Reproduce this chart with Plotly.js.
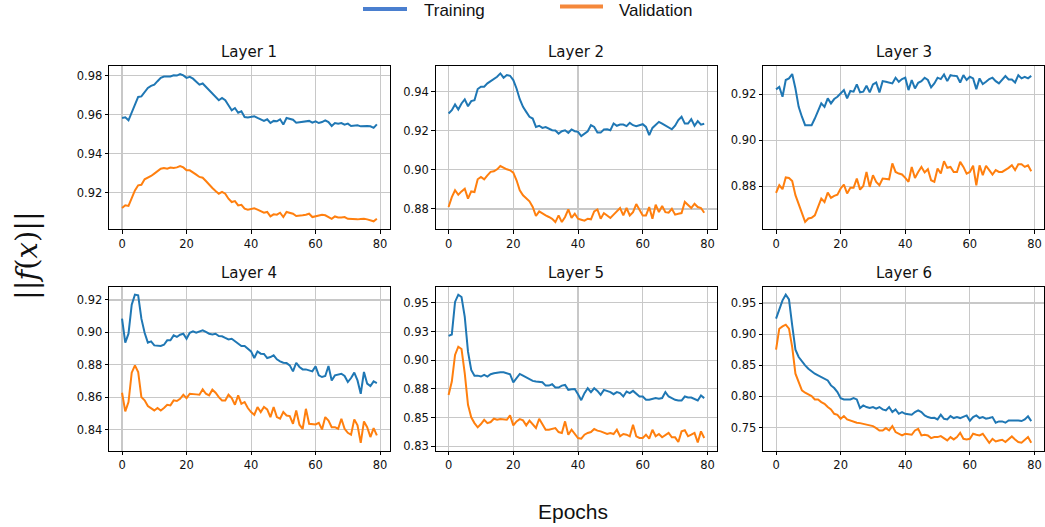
<!DOCTYPE html>
<html>
<head>
<meta charset="utf-8">
<script src="https://cdn.plot.ly/plotly-3.0.1.min.js"></script>
<style>html,body{margin:0;padding:0;background:#fff;}#chart{width:1045px;height:527px;}</style>
</head>
<body>
<div id="chart"></div>
<script>
const epochs = [0,1,2,3,4,5,6,7,8,9,10,11,12,13,14,15,16,17,18,19,20,21,22,23,24,25,26,27,28,29,30,31,32,33,34,35,36,37,38,39,40,41,42,43,44,45,46,47,48,49,50,51,52,53,54,55,56,57,58,59,60,61,62,63,64,65,66,67,68,69,70,71,72,73,74,75,76,77,78,79];
const layerNames = ["Layer 1","Layer 2","Layer 3","Layer 4","Layer 5","Layer 6"];
const seriesNames = ["Training","Validation"];
const xTicks = [0,20,40,60,80];

const train1 = [0.9584,0.9587,0.9572,0.9615,0.9658,0.9692,0.9695,0.9718,0.9738,0.9749,0.9755,0.9773,0.9790,0.9797,0.9798,0.9797,0.9803,0.9802,0.9810,0.9803,0.9790,0.9795,0.9786,0.9769,0.9755,0.9761,0.9743,0.9726,0.9709,0.9692,0.9675,0.9687,0.9675,0.9649,0.9623,0.9635,0.9611,0.9618,0.9589,0.9586,0.9591,0.9593,0.9584,0.9577,0.9569,0.9577,0.9558,0.9569,0.9567,0.9577,0.9550,0.9584,0.9581,0.9575,0.9560,0.9563,0.9563,0.9567,0.9569,0.9560,0.9567,0.9558,0.9563,0.9572,0.9563,0.9543,0.9558,0.9555,0.9558,0.9550,0.9555,0.9543,0.9543,0.9546,0.9541,0.9543,0.9543,0.9541,0.9533,0.9551];
const val1 = [0.9121,0.9135,0.9132,0.9169,0.9212,0.9238,0.9241,0.9269,0.9276,0.9286,0.9298,0.9310,0.9323,0.9327,0.9323,0.9329,0.9327,0.9330,0.9337,0.9330,0.9315,0.9315,0.9306,0.9293,0.9281,0.9277,0.9260,0.9241,0.9224,0.9209,0.9195,0.9204,0.9195,0.9169,0.9152,0.9157,0.9135,0.9138,0.9118,0.9113,0.9118,0.9120,0.9113,0.9104,0.9097,0.9101,0.9078,0.9089,0.9087,0.9097,0.9075,0.9101,0.9097,0.9092,0.9080,0.9084,0.9084,0.9087,0.9092,0.9075,0.9080,0.9084,0.9087,0.9084,0.9075,0.9066,0.9078,0.9073,0.9073,0.9075,0.9066,0.9065,0.9061,0.9063,0.9065,0.9066,0.9063,0.9058,0.9053,0.9066];

const train2 = [0.9289,0.9306,0.9335,0.9309,0.9340,0.9361,0.9326,0.9352,0.9357,0.9414,0.9426,0.9426,0.9443,0.9455,0.9463,0.9477,0.9494,0.9472,0.9486,0.9482,0.9460,0.9417,0.9362,0.9323,0.9297,0.9272,0.9263,0.9220,0.9226,0.9215,0.9219,0.9212,0.9203,0.9202,0.9186,0.9198,0.9203,0.9190,0.9207,0.9198,0.9195,0.9173,0.9185,0.9198,0.9229,0.9220,0.9191,0.9191,0.9207,0.9208,0.9203,0.9238,0.9226,0.9232,0.9232,0.9224,0.9241,0.9229,0.9224,0.9229,0.9234,0.9220,0.9178,0.9215,0.9229,0.9246,0.9237,0.9226,0.9217,0.9208,0.9226,0.9255,0.9272,0.9237,0.9237,0.9260,0.9226,0.9250,0.9232,0.9236];
const val2 = [0.8810,0.8861,0.8896,0.8873,0.8890,0.8904,0.8853,0.8890,0.8887,0.8952,0.8964,0.8952,0.8972,0.8990,0.8993,0.9003,0.9020,0.9010,0.9003,0.8998,0.8986,0.8947,0.8896,0.8870,0.8853,0.8839,0.8810,0.8764,0.8788,0.8776,0.8767,0.8759,0.8750,0.8733,0.8767,0.8733,0.8759,0.8798,0.8754,0.8776,0.8750,0.8745,0.8740,0.8750,0.8747,0.8788,0.8798,0.8750,0.8779,0.8767,0.8754,0.8771,0.8788,0.8805,0.8767,0.8805,0.8767,0.8784,0.8825,0.8793,0.8767,0.8767,0.8810,0.8750,0.8822,0.8784,0.8815,0.8784,0.8781,0.8801,0.8771,0.8776,0.8779,0.8836,0.8819,0.8805,0.8827,0.8810,0.8805,0.8781];

const train3 = [0.9222,0.9233,0.9190,0.9263,0.9270,0.9289,0.9226,0.9146,0.9103,0.9066,0.9066,0.9066,0.9095,0.9127,0.9161,0.9146,0.9183,0.9161,0.9180,0.9190,0.9204,0.9219,0.9183,0.9215,0.9212,0.9244,0.9209,0.9212,0.9238,0.9209,0.9244,0.9252,0.9209,0.9258,0.9255,0.9251,0.9248,0.9273,0.9255,0.9267,0.9273,0.9219,0.9263,0.9226,0.9251,0.9258,0.9273,0.9263,0.9231,0.9248,0.9273,0.9267,0.9287,0.9258,0.9284,0.9281,0.9280,0.9252,0.9284,0.9263,0.9277,0.9270,0.9223,0.9270,0.9245,0.9255,0.9267,0.9273,0.9258,0.9248,0.9265,0.9280,0.9265,0.9265,0.9252,0.9284,0.9270,0.9277,0.9270,0.9281];
const val3 = [0.8771,0.8804,0.8787,0.8838,0.8836,0.8823,0.8761,0.8724,0.8681,0.8644,0.8659,0.8662,0.8673,0.8710,0.8746,0.8731,0.8772,0.8749,0.8758,0.8763,0.8790,0.8807,0.8768,0.8793,0.8793,0.8833,0.8785,0.8801,0.8862,0.8797,0.8848,0.8819,0.8804,0.8833,0.8830,0.8830,0.8899,0.8862,0.8855,0.8851,0.8836,0.8819,0.8884,0.8836,0.8862,0.8884,0.8860,0.8874,0.8826,0.8819,0.8877,0.8855,0.8909,0.8880,0.8884,0.8862,0.8862,0.8906,0.8884,0.8855,0.8862,0.8889,0.8804,0.8891,0.8848,0.8889,0.8870,0.8851,0.8870,0.8862,0.8862,0.8870,0.8880,0.8891,0.8870,0.8896,0.8896,0.8884,0.8891,0.8865];

const train4 = [0.9085,0.8937,0.8992,0.9171,0.9233,0.9229,0.9085,0.8998,0.8937,0.8945,0.8920,0.8916,0.8916,0.8924,0.8951,0.8951,0.8982,0.8972,0.8986,0.8992,0.8961,0.8998,0.9007,0.8998,0.9007,0.9013,0.9003,0.8992,0.8988,0.8992,0.8978,0.8976,0.8966,0.8957,0.8961,0.8945,0.8931,0.8916,0.8916,0.8900,0.8883,0.8842,0.8883,0.8869,0.8867,0.8842,0.8848,0.8859,0.8834,0.8822,0.8813,0.8811,0.8797,0.8760,0.8813,0.8787,0.8772,0.8772,0.8766,0.8760,0.8791,0.8735,0.8725,0.8731,0.8793,0.8704,0.8735,0.8741,0.8745,0.8731,0.8694,0.8719,0.8752,0.8704,0.8622,0.8756,0.8684,0.8669,0.8698,0.8688];
const val4 = [0.8628,0.8513,0.8571,0.8752,0.8797,0.8756,0.8601,0.8581,0.8546,0.8534,0.8519,0.8534,0.8519,0.8534,0.8554,0.8550,0.8581,0.8577,0.8591,0.8616,0.8595,0.8622,0.8622,0.8618,0.8616,0.8649,0.8622,0.8612,0.8647,0.8628,0.8601,0.8581,0.8581,0.8616,0.8595,0.8554,0.8612,0.8560,0.8571,0.8534,0.8509,0.8492,0.8540,0.8509,0.8540,0.8525,0.8478,0.8540,0.8478,0.8468,0.8509,0.8488,0.8484,0.8437,0.8519,0.8431,0.8406,0.8529,0.8437,0.8437,0.8433,0.8443,0.8402,0.8478,0.8457,0.8416,0.8416,0.8406,0.8468,0.8406,0.8381,0.8369,0.8464,0.8427,0.8319,0.8451,0.8416,0.8355,0.8410,0.8365];

const train5 = [0.9213,0.9225,0.9509,0.9572,0.9552,0.9378,0.9075,0.8915,0.8866,0.8866,0.8858,0.8872,0.8858,0.8878,0.8886,0.8892,0.8895,0.8895,0.8886,0.8878,0.8808,0.8849,0.8881,0.8866,0.8849,0.8837,0.8820,0.8814,0.8814,0.8808,0.8779,0.8779,0.8791,0.8762,0.8762,0.8779,0.8785,0.8742,0.8748,0.8750,0.8704,0.8652,0.8713,0.8756,0.8722,0.8756,0.8733,0.8698,0.8742,0.8733,0.8722,0.8704,0.8722,0.8713,0.8684,0.8727,0.8713,0.8733,0.8704,0.8684,0.8684,0.8655,0.8655,0.8664,0.8670,0.8664,0.8670,0.8722,0.8684,0.8670,0.8655,0.8649,0.8649,0.8684,0.8675,0.8675,0.8664,0.8649,0.8693,0.8670];
const val5 = [0.8698,0.8814,0.9046,0.9118,0.9098,0.8886,0.8612,0.8502,0.8452,0.8415,0.8444,0.8481,0.8452,0.8461,0.8490,0.8481,0.8487,0.8481,0.8481,0.8519,0.8432,0.8467,0.8487,0.8476,0.8432,0.8473,0.8444,0.8409,0.8490,0.8438,0.8394,0.8394,0.8400,0.8409,0.8374,0.8366,0.8467,0.8351,0.8394,0.8357,0.8322,0.8316,0.8351,0.8366,0.8374,0.8400,0.8386,0.8380,0.8371,0.8357,0.8366,0.8357,0.8394,0.8337,0.8357,0.8351,0.8337,0.8438,0.8337,0.8322,0.8322,0.8351,0.8316,0.8394,0.8337,0.8357,0.8328,0.8351,0.8366,0.8328,0.8328,0.8287,0.8380,0.8389,0.8337,0.8351,0.8366,0.8284,0.8380,0.8322];

const train6 = [0.9248,0.9409,0.9543,0.9634,0.9559,0.9141,0.8750,0.8632,0.8562,0.8498,0.8444,0.8401,0.8364,0.8337,0.8310,0.8273,0.8256,0.8176,0.8133,0.8069,0.7972,0.7951,0.7951,0.7951,0.7972,0.7951,0.7812,0.7854,0.7828,0.7812,0.7828,0.7801,0.7828,0.7790,0.7774,0.7828,0.7747,0.7790,0.7720,0.7747,0.7720,0.7710,0.7704,0.7747,0.7774,0.7747,0.7694,0.7667,0.7651,0.7656,0.7629,0.7704,0.7640,0.7629,0.7683,0.7651,0.7667,0.7651,0.7667,0.7694,0.7608,0.7667,0.7694,0.7651,0.7667,0.7640,0.7651,0.7667,0.7576,0.7597,0.7597,0.7576,0.7613,0.7613,0.7619,0.7613,0.7603,0.7629,0.7678,0.7603];
const val6 = [0.8750,0.9087,0.9125,0.9152,0.9087,0.8792,0.8364,0.8230,0.8096,0.8058,0.8026,0.8005,0.7951,0.7951,0.7908,0.7881,0.7828,0.7790,0.7720,0.7704,0.7640,0.7683,0.7629,0.7613,0.7586,0.7576,0.7570,0.7560,0.7544,0.7533,0.7522,0.7490,0.7452,0.7452,0.7490,0.7452,0.7522,0.7426,0.7399,0.7372,0.7399,0.7388,0.7383,0.7452,0.7479,0.7372,0.7383,0.7372,0.7329,0.7345,0.7345,0.7361,0.7329,0.7292,0.7345,0.7308,0.7345,0.7415,0.7318,0.7308,0.7318,0.7399,0.7383,0.7372,0.7399,0.7318,0.7254,0.7318,0.7276,0.7292,0.7302,0.7265,0.7318,0.7356,0.7308,0.7265,0.7254,0.7308,0.7345,0.7254];

const yTicks1 = [0.92,0.94,0.96,0.98];
const yTicks2 = [0.88,0.90,0.92,0.94];
const yTicks3 = [0.88,0.90,0.92];
const yTicks4 = [0.84,0.86,0.88,0.90,0.92];
const yTicks5 = [0.825,0.85,0.875,0.90,0.925,0.95];
const yTickText5 = ["0.83","0.85","0.88","0.90","0.93","0.95"];
const yTicks6 = [0.75,0.80,0.85,0.90,0.95];

const trainSeries = [train1,train2,train3,train4,train5,train6];
const valSeries = [val1,val2,val3,val4,val5,val6];
const yTickSets = [yTicks1,yTicks2,yTicks3,yTicks4,yTicks5,yTicks6];
const yTickTexts = [null,null,null,null,yTickText5,null];
const yRanges = [[0.9012,0.9851],[0.8696,0.9532],[0.8612,0.9324],[0.8272,0.9280],[0.8213,0.9639],[0.7130,0.9757]];

const W = 1045, H = 527;
const colPx = [[109.3,389.6],[435.8,717.0],[763.3,1044.0]];
const rowPx = [[66,229.3],[287,450.5]];
const titleY = [52,273];

const tickFont = {family:"DejaVu Sans, sans-serif", size:11.5, color:"#111"};
const colTrain = "#1f77b4", colVal = "#ff7f0e";

const data = [];
const layout = {
  width:W, height:H,
  margin:{l:0,r:0,t:0,b:0},
  paper_bgcolor:"#fff", plot_bgcolor:"#fff",
  showlegend:false,
  annotations:[], shapes:[]
};

for (let i=0;i<6;i++){
  const r = Math.floor(i/3), c = i%3;
  const sfx = i===0 ? "" : String(i+1);
  data.push({x:epochs, y:trainSeries[i], type:"scatter", mode:"lines", name:seriesNames[0],
    xaxis:"x"+sfx, yaxis:"y"+sfx, line:{color:colTrain,width:2}, hoverinfo:"skip"});
  data.push({x:epochs, y:valSeries[i], type:"scatter", mode:"lines", name:seriesNames[1],
    xaxis:"x"+sfx, yaxis:"y"+sfx, line:{color:colVal,width:2}, hoverinfo:"skip"});
  const xd = [colPx[c][0]/W, colPx[c][1]/W];
  const yd = [1-rowPx[r][1]/H, 1-rowPx[r][0]/H];
  const common = {showline:true, mirror:true, linecolor:"#000", linewidth:1.1,
    showgrid:true, gridcolor:"#c8c8c8", gridwidth:1.1, zeroline:false,
    ticks:"outside", ticklen:3.5, tickwidth:1, tickcolor:"#000", tickfont:tickFont};
  layout["xaxis"+sfx] = Object.assign({}, common, {domain:xd, anchor:"y"+sfx,
    range:[-3.95,82.95], tickmode:"array", tickvals:xTicks});
  const ya = Object.assign({}, common, {domain:yd, anchor:"x"+sfx,
    range:yRanges[i], tickmode:"array", tickvals:yTickSets[i], tickformat:".2f"});
  if (yTickTexts[i]) ya.ticktext = yTickTexts[i];
  layout["yaxis"+sfx] = ya;
  layout.annotations.push({text:layerNames[i], xref:"paper", yref:"paper",
    x:(colPx[c][0]+colPx[c][1])/2/W, y:1-titleY[r]/H, xanchor:"center", yanchor:"middle",
    showarrow:false, font:{family:"DejaVu Sans, sans-serif", size:15, color:"#111"}});
}

// shared axis titles
layout.annotations.push({text:"Epochs", xref:"paper", yref:"paper", x:573/W, y:1-511/H,
  xanchor:"center", yanchor:"middle", showarrow:false,
  font:{family:"Liberation Sans, Arial, sans-serif", size:21, color:"#111"}});
layout.annotations.push({text:"||<i>f</i>(<i>x</i>)||", xref:"paper", yref:"paper", x:27/W, y:1-256/H,
  xanchor:"center", yanchor:"middle", textangle:-90, showarrow:false,
  font:{family:"DejaVu Serif, serif", size:29, color:"#111"}});

// figure-level legend
const legendItems = [
  {label:seriesNames[0], color:"#4a7fcf", x0:363, x1:407, ly:9, tx:423},
  {label:seriesNames[1], color:"#f5883b", x0:560, x1:603, ly:6.5, tx:618}
];
legendItems.forEach(it=>{
  layout.shapes.push({type:"line", xref:"paper", yref:"paper", x0:it.x0/W, x1:it.x1/W,
    y0:1-it.ly/H, y1:1-it.ly/H, line:{color:it.color, width:4}});
  layout.annotations.push({text:it.label, xref:"paper", yref:"paper", x:it.tx/W, y:1,
    xanchor:"left", yanchor:"top", showarrow:false, borderpad:0,
    font:{family:"Liberation Sans, Arial, sans-serif", size:17, color:"#111"}});
});

Plotly.newPlot("chart", data, layout, {staticPlot:true, displayModeBar:false});
</script>
</body>
</html>
